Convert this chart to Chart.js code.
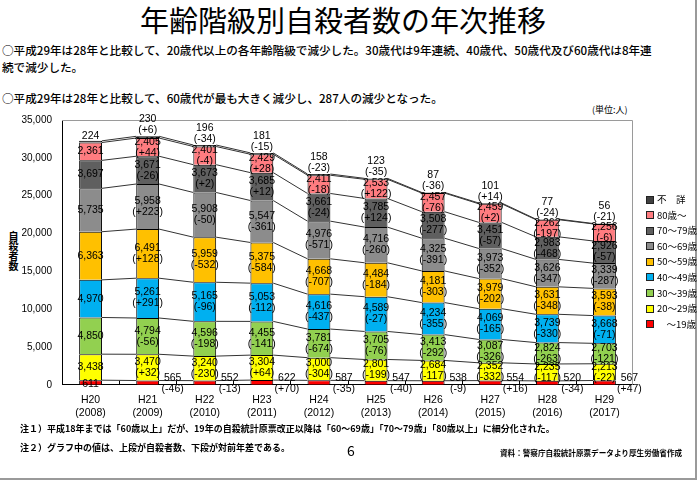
<!DOCTYPE html>
<html>
<head>
<meta charset="utf-8">
<script src="https://cdn.jsdelivr.net/npm/chart.js@4"></script>
<style>
  body { margin: 0; width: 700px; height: 486px; background: #fff; position: relative; overflow: hidden;
         font-family: "Noto Sans CJK JP", sans-serif; color: #000; }
  .abs { position: absolute; white-space: nowrap; }
  #frame { position: absolute; left: 0; top: 0; width: 695px; height: 478px;
           border-right: 2px solid #9a9a9a; border-bottom: 2px solid #9a9a9a; }
  #title { left: -7px; width: 700px; top: 1px; text-align: center; font-size: 29px; line-height: 36px; }
  .lead { left: 2px; font-size: 11.6px; line-height: 16px; font-weight: 500; }
  #unit { left: 592px; top: 103px; font-size: 9px; }
  #ytitle { left: 8px; top: 231px; font-size: 10px; line-height: 10px; font-weight: bold; width: 11px; text-align: center; }
  .note { left: 20px; font-size: 9px; font-weight: bold; }
  #page { left: 347px; top: 440px; font-size: 14px; }
  #src { left: 500px; top: 447px; font-size: 7.6px; font-weight: bold; }
  #box { position: absolute; left: 0; top: 104px; width: 700px; height: 328px; }
  #legend { position: absolute; left: 646px; top: 192px; font-size: 9.5px; }
  #legend div { height: 15.6px; line-height: 15.6px; white-space: pre; }
  #legend span { display: inline-block; width: 6px; height: 6px; border: 1px solid #222; margin-right: 3px; vertical-align: -0.5px; }
</style>
</head>
<body>
<div id="frame"></div>
<div id="title" class="abs">年齢階級別自殺者数の年次推移</div>
<div class="abs lead" style="top:42px">○平成29年は28年と比較して、20歳代以上の各年齢階級で減少した。30歳代は9年連続、40歳代、50歳代及び60歳代は8年連</div>
<div class="abs lead" style="top:59px">続で減少した。</div>
<div class="abs lead" style="top:90px">○平成29年は28年と比較して、60歳代が最も大きく減少し、287人の減少となった。</div>
<div id="unit" class="abs">(単位:人)</div>
<div id="ytitle" class="abs">自<br>殺<br>者<br>数</div>
<div id="box"><canvas id="suicideChart"></canvas></div>
<div id="legend"></div>
<div class="abs note" style="top:422px">注１）平成18年までは「60歳以上」だが、19年の自殺統計原票改正以降は「60～69歳」「70～79歳」「80歳以上」に細分化された。</div>
<div class="abs note" style="top:441px">注２）グラフ中の値は、上段が自殺者数、下段が対前年差である。</div>
<div id="page" class="abs">6</div>
<div id="src" class="abs">資料：警察庁自殺統計原票データより厚生労働省作成</div>

<script>
// 年次（x軸）
const years = [['H20', '(2008)'], ['H21', '(2009)'], ['H22', '(2010)'], ['H23', '(2011)'], ['H24', '(2012)'],
               ['H25', '(2013)'], ['H26', '(2014)'], ['H27', '(2015)'], ['H28', '(2016)'], ['H29', '(2017)']];

// 年齢階級別 自殺者数
const age19   = [611, 565, 552, 622, 587, 547, 538, 554, 520, 567];
const age20s  = [3438, 3470, 3240, 3304, 3000, 2801, 2684, 2352, 2235, 2213];
const age30s  = [4850, 4794, 4596, 4455, 3781, 3705, 3413, 3087, 2824, 2703];
const age40s  = [4970, 5261, 5165, 5053, 4616, 4589, 4234, 4069, 3739, 3668];
const age50s  = [6363, 6491, 5959, 5375, 4668, 4484, 4181, 3979, 3631, 3593];
const age60s  = [5735, 5958, 5908, 5547, 4976, 4716, 4325, 3973, 3626, 3339];
const age70s  = [3697, 3671, 3673, 3685, 3661, 3785, 3508, 3451, 2983, 2926];
const age80   = [2361, 2405, 2401, 2429, 2411, 2533, 2457, 2459, 2262, 2256];
const unknown = [224, 230, 196, 181, 158, 123, 87, 101, 77, 56];

// y軸目盛
const yTicks = [0, 5000, 10000, 15000, 20000, 25000, 30000, 35000];

const fmt = v => v.toLocaleString('en-US');
const diffText = d => '(' + (d > 0 ? '+' : '') + d + ')';

// 系列線（各段の上端を隣の棒とつなぐ）と枠、x軸の目盛り
const seriesLines = {
  id: 'seriesLines',
  beforeDatasetsDraw(chart) {
    const ctx = chart.ctx, a = chart.chartArea;
    ctx.save();
    ctx.strokeStyle = '#9a9a9a';
    ctx.lineWidth = 1;
    ctx.beginPath();
    ctx.moveTo(a.left, a.top + 0.5);
    ctx.lineTo(a.right - 0.5, a.top + 0.5);
    ctx.lineTo(a.right - 0.5, a.bottom);
    ctx.stroke();
    ctx.strokeStyle = '#333';
    chart.data.datasets.forEach((ds, di) => {
      const bars = chart.getDatasetMeta(di).data;
      ctx.beginPath();
      for (let i = 0; i < bars.length - 1; i++) {
        const b = bars[i], n = bars[i + 1];
        ctx.moveTo(b.x + b.width / 2, b.y);
        ctx.lineTo(n.x - n.width / 2, n.y);
      }
      ctx.stroke();
    });
    // 区切りの小さな目盛り
    const bars = chart.getDatasetMeta(0).data;
    ctx.strokeStyle = '#000';
    ctx.beginPath();
    for (let i = 0; i < bars.length - 1; i++) {
      const x = Math.round((bars[i].x + bars[i + 1].x) / 2) + 0.5;
      ctx.moveTo(x, a.bottom);
      ctx.lineTo(x, a.bottom - 4);
    }
    ctx.stroke();
    ctx.restore();
  }
};

// 棒の中の数値と対前年差
const segLabels = {
  id: 'segLabels',
  afterDatasetsDraw(chart) {
    const ctx = chart.ctx;
    const last = chart.data.datasets.length - 1;
    ctx.save();
    ctx.font = '10.5px "Liberation Sans", Arial, sans-serif';
    ctx.fillStyle = '#000';
    ctx.textAlign = 'center';
    ctx.textBaseline = 'middle';
    chart.data.datasets.forEach((ds, di) => {
      chart.getDatasetMeta(di).data.forEach((bar, i) => {
        const v = ds.data[i];
        const d = i > 0 ? diffText(v - ds.data[i - 1]) : null;
        if (di === 0) {
          if (!d) {
            ctx.fillText(fmt(v), bar.x, bar.base - 1);
          } else {
            ctx.fillText(fmt(v), bar.x + 25, bar.base - 7);
            ctx.fillText(d, bar.x + 25, bar.base + 4);
          }
        } else if (di === last) {
          if (!d) {
            ctx.fillText(fmt(v), bar.x, bar.y - 5);
          } else {
            ctx.fillText(fmt(v), bar.x, bar.y - 17);
            ctx.fillText(d, bar.x, bar.y - 6);
          }
        } else {
          const mid = (bar.y + bar.base) / 2;
          if (!d) {
            ctx.fillText(fmt(v), bar.x, mid);
          } else {
            ctx.fillText(fmt(v), bar.x, mid - 5.5);
            ctx.fillText(d, bar.x, mid + 5.5);
          }
        }
      });
    });
    ctx.restore();
  }
};

Chart.defaults.font.family = '"Liberation Sans", Arial, sans-serif';
Chart.defaults.color = '#000';

const series = [
  { label: '　～19歳', data: age19, color: '#ff0000' },
  { label: '20～29歳', data: age20s, color: '#ffff00' },
  { label: '30～39歳', data: age30s, color: '#92d050' },
  { label: '40～49歳', data: age40s, color: '#00b0f0' },
  { label: '50～59歳', data: age50s, color: '#ffc000' },
  { label: '60～69歳', data: age60s, color: '#8c8c8c' },
  { label: '70～79歳', data: age70s, color: '#5f5f5f' },
  { label: '80歳～', data: age80, color: '#ff7c80' },
  { label: '不　詳', data: unknown, color: '#404040' }
];

const ctxS = document.getElementById('suicideChart');
const suicideChart = new Chart(ctxS, {
  type: 'bar',
  data: {
    labels: years,
    datasets: series.map(s => ({
      label: s.label,
      data: s.data,
      backgroundColor: s.color,
      borderColor: '#000',
      borderWidth: 1,
      barPercentage: 0.4,
      categoryPercentage: 1.0
    }))
  },
  options: {
    responsive: true,
    maintainAspectRatio: false,
    animation: false,
    layout: { padding: { top: 14, bottom: 4, left: 0, right: 67 } },
    scales: {
      x: {
        stacked: true,
        grid: { display: false, drawTicks: false },
        border: { display: true, color: '#000', width: 1 },
        ticks: { font: { size: 10.5 }, padding: 9, maxRotation: 0 }
      },
      y: {
        stacked: true,
        min: 0,
        max: 35000,
        afterFit: s => { s.width = 62; },
        afterBuildTicks: s => { s.ticks = yTicks.map(v => ({ value: v })); },
        grid: { display: false, drawTicks: false },
        border: { display: true, color: '#000', width: 1 },
        ticks: { font: { size: 10 }, padding: 10, callback: v => fmt(v) }
      }
    },
    plugins: {
      tooltip: { enabled: false },
      legend: { display: false }
    }
  },
  plugins: [seriesLines, segLabels]
});

// 凡例（上から 不詳 → ～19歳）
const legendBox = document.getElementById('legend');
suicideChart.data.datasets.slice().reverse().forEach(ds => {
  const row = document.createElement('div');
  const sw = document.createElement('span');
  sw.style.background = ds.backgroundColor;
  row.appendChild(sw);
  row.appendChild(document.createTextNode(ds.label));
  legendBox.appendChild(row);
});
</script>
</body>
</html>
